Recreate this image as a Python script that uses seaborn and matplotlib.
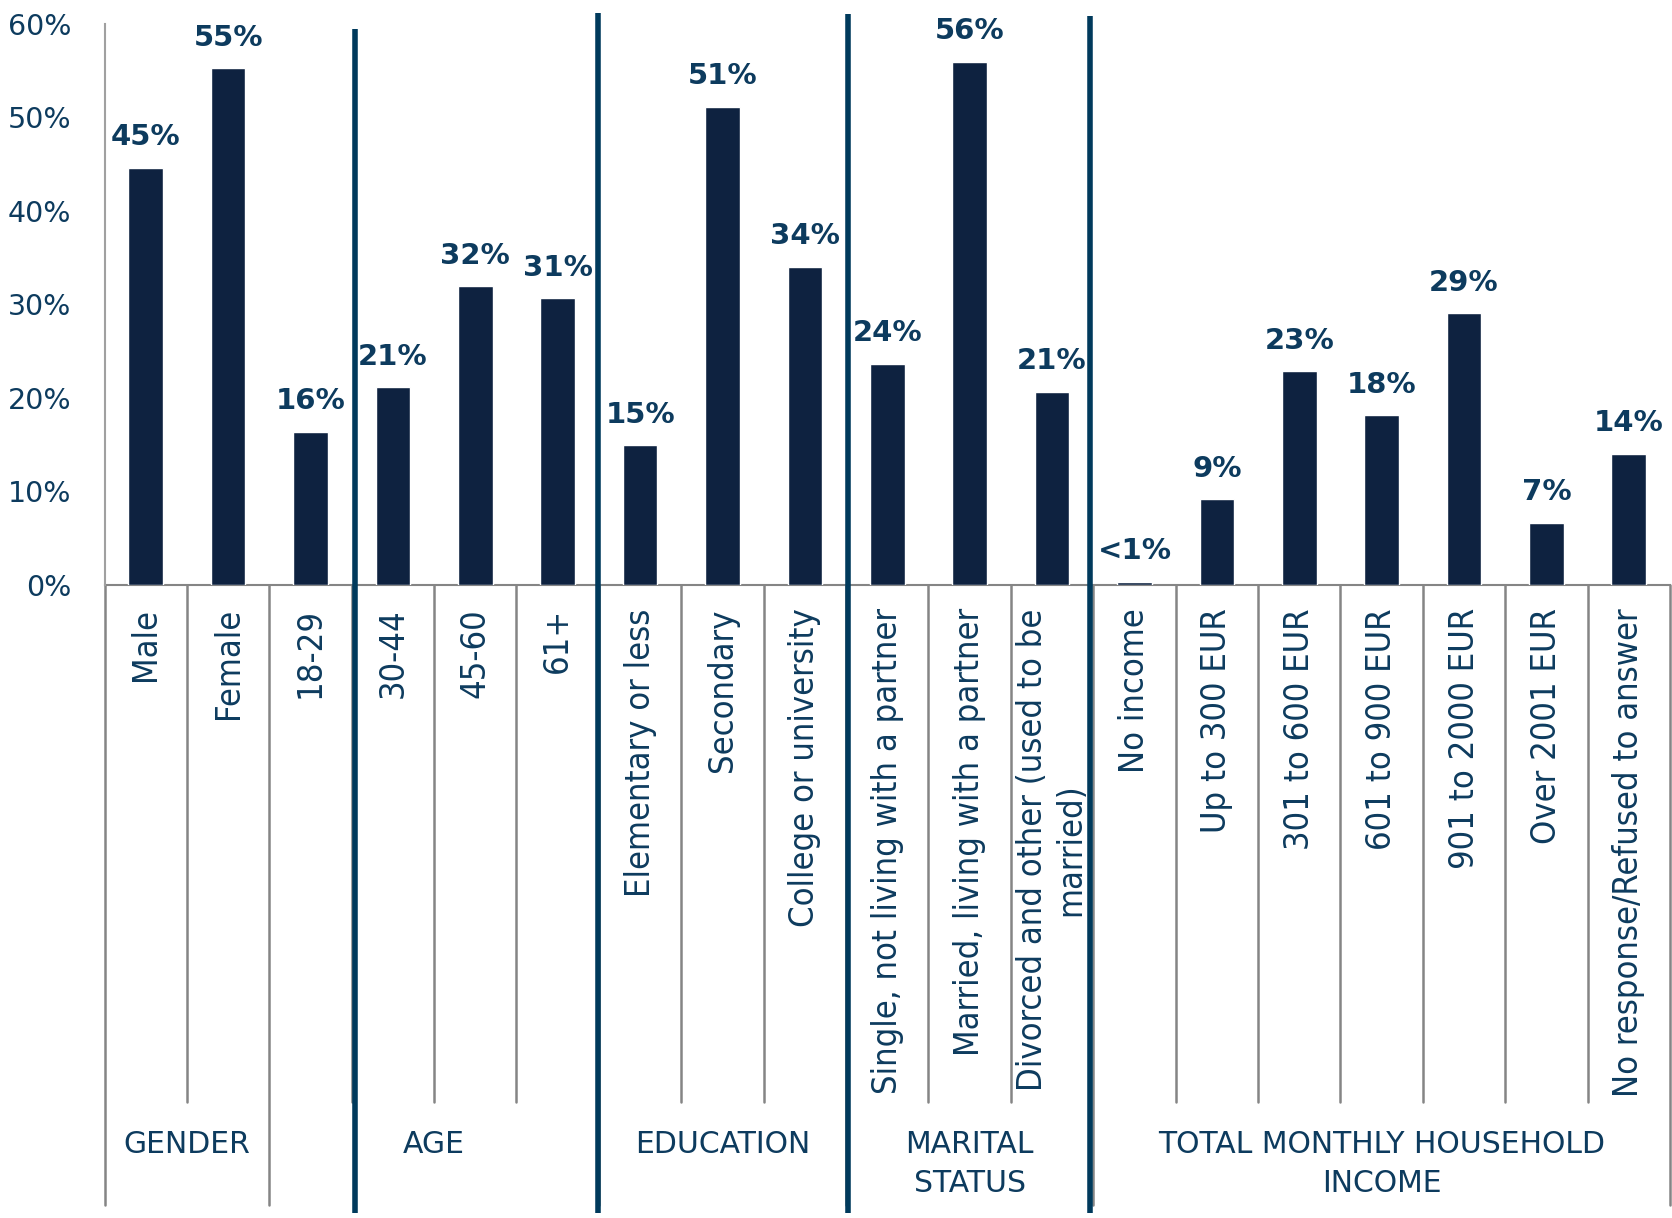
import matplotlib
matplotlib.use("Agg")
import matplotlib.pyplot as plt
import matplotlib.transforms as mtransforms
import seaborn as sns
from matplotlib import font_manager
from matplotlib.font_manager import FontProperties
from matplotlib.textpath import TextPath

# ===== data =====
categories = ["Male", "Female", "18-29", "30-44", "45-60", "61+",
              "Elementary or less", "Secondary", "College or university",
              "Single, not living with a partner", "Married, living with a partner",
              "Divorced and other (used to be\nmarried)",
              "No income", "Up to 300 EUR", "301 to 600 EUR", "601 to 900 EUR",
              "901 to 2000 EUR", "Over 2001 EUR", "No response/Refused to answer"]
values = [44.6, 55.2, 16.3, 21.1, 31.9, 30.6, 14.9, 51.1, 34.0,
          23.6, 55.9, 20.6, 0.3, 9.1, 22.8, 18.1, 29.0, 6.6, 14.0]
groups = ["GENDER", "AGE", "EDUCATION", "MARITAL\nSTATUS", "TOTAL MONTHLY HOUSEHOLD\nINCOME"]
group_sizes = [2, 4, 3, 3, 7]
divider_after = [3, 6, 9, 12]   # thick dividers (category boundaries)

# ===== style =====
sns.set_style("white")
plt.rcParams["font.family"] = ["DejaVu Sans"]

# condensed face for the category labels, if one is installed
cond_file = None
for f in font_manager.fontManager.ttflist:
    nm = f.name.lower()
    is_cond = "narrow" in nm or "condensed" in nm or f.stretch in ("condensed", "semi-condensed")
    if is_cond and f.style == "normal" and f.weight in (400, "normal", "regular"):
        cond_file = f.fname
        break
if cond_file:
    cat_fp = FontProperties(fname=cond_file)
else:
    cat_fp = FontProperties(family="DejaVu Sans")
# scale so the longest label is ~486 px like the reference
probe = TextPath((0, 0), "No response/Refused to answer", prop=cat_fp, size=20)
cat_size = 20 * 486 / (probe.get_extents().width * 100 / 72)
cat_size = min(cat_size, 29)
cat_fp.set_size(cat_size)

BAR = "#0e2240"
TXT = "#0d3b5e"
DIV = "#003a5c"
GRID = "#858585"

fig = plt.figure(figsize=(16.72, 12.18), dpi=100)
ax = fig.add_axes([0.0625, 0.5201, 0.9363, 0.4606])

sns.barplot(x=categories, y=values, color=BAR, width=0.42, saturation=1, ax=ax)

ax.set_xlim(-0.5, len(categories) - 0.5)
ax.set_ylim(0, 60)
ax.set_yticks(range(0, 61, 10))
ax.set_yticklabels([f"{v}%" for v in range(0, 61, 10)], fontsize=20.5, color=TXT)
ax.tick_params(axis="y", length=0, pad=24)
ax.set_xticks(range(len(categories)))
ax.set_xticklabels(categories, rotation=90, fontproperties=cat_fp, color=TXT,
                   multialignment="center")
ax.tick_params(axis="x", length=0, pad=17)
ax.set_xlabel("")
ax.set_ylabel("")

for s in ["top", "right"]:
    ax.spines[s].set_visible(False)
ax.spines["left"].set_color("#a0a0a0")
ax.spines["bottom"].set_color(GRID)
ax.spines["left"].set_linewidth(1.5)
ax.spines["bottom"].set_linewidth(1.5)
ax.spines["bottom"].set_zorder(0.5)

# value labels
for i, v in enumerate(values):
    lab = "<1%" if v < 1 else f"{round(v)}%"
    ax.annotate(lab, (i, v), xytext=(0, 12), textcoords="offset points",
                ha="center", va="bottom", fontsize=21, fontweight="bold", color=TXT)

# separators below the axis
trans = mtransforms.blended_transform_factory(ax.transData, ax.transAxes)
bounds = [0]
for n in group_sizes:
    bounds.append(bounds[-1] + n)
for b in range(len(categories) + 1):
    x = b - 0.5
    y_end = -1.106 if b in bounds else -0.9216
    ax.plot([x, x], [0, y_end], color=GRID, lw=1.8, transform=trans, clip_on=False)

# thick group dividers
tops = [0.990, 1.019, 1.017, 1.013]
shifts = [0.04, -0.015, 0.02, -0.04]
for b, t, s in zip(divider_after, tops, shifts):
    x = b - 0.5 + s
    ax.plot([x, x], [t, -1.12], color=DIV, lw=4, transform=trans, clip_on=False,
            solid_capstyle="butt")

# group labels
for g, lo, hi in zip(groups, bounds[:-1], bounds[1:]):
    ax.text((lo + hi - 1) / 2, -0.972, g, transform=trans, ha="center", va="top",
            fontsize=21.5, color=TXT, linespacing=1.45, multialignment="center")

fig.savefig("out.png", dpi=100)
